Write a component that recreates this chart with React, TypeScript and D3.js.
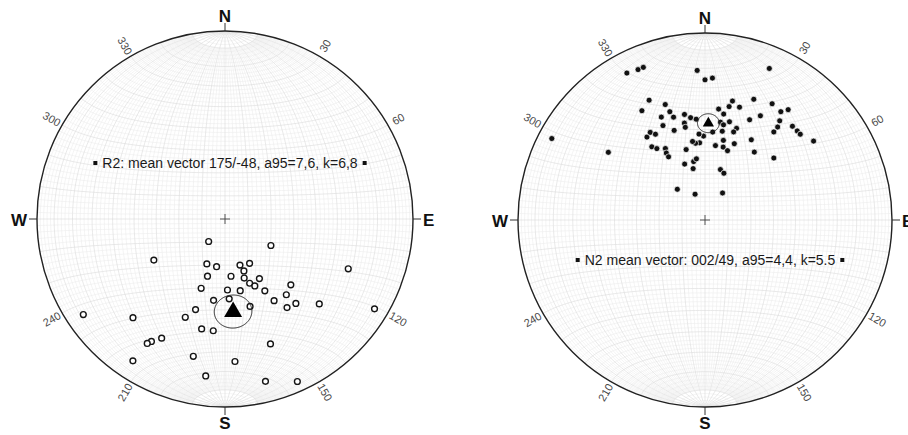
import React, { useLayoutEffect, useRef, useState } from 'react';
import * as d3 from 'd3';

// R2 directions, trend / plunge in degrees (lower hemisphere)
const r2Trend = [216, 120, 240, 202, 190, 162, 151, 160, 112, 197, 174, 162, 150, 159, 156, 199, 178, 168, 151, 135,
  141, 177, 188, 149, 140, 145, 132, 121, 164, 198, 202, 223, 236, 192, 186, 208, 211, 212, 160, 193, 213, 176, 187, 166, 156];
const r2Plunge = [78, 67, 54, 69, 69, 69, 68, 66, 30, 64, 65, 63, 60, 60, 58, 58, 59, 58, 54, 49,
  47, 55, 54, 48, 41, 42, 33, 8, 50, 48, 43, 29, 10, 40, 40, 29, 25, 23, 30, 26, 11, 25, 17, 12, 6];

// N2 directions
const n2Trend = [332, 336, 338, 357, 0, 3, 23, 335, 330, 341, 342, 337, 343, 336, 341, 325, 328, 330, 324, 326,
  331, 330, 330, 298, 305, 318, 349, 352, 355, 348, 348, 22, 13, 12, 17, 7, 10, 30, 35, 37,
  28, 24, 14, 9, 11, 37, 38, 43, 46, 48, 54, 38, 19, 11, 18, 5, 359, 356, 30, 13,
  21, 8, 14, 18, 356, 353, 351, 345, 36, 48, 349, 352, 340, 347, 17, 22, 339, 33];
const n2Plunge = [12, 13, 13, 21, 26, 25, 13, 30, 33, 35, 39, 40, 42, 44, 48, 45, 44, 46, 50, 52,
  54, 56, 58, 8, 37, 72, 42, 44, 45, 46, 48, 31, 35, 38, 37, 40, 42, 29, 30, 27,
  37, 41, 45, 46, 47, 34, 37, 32, 32, 32, 29, 40, 47, 50, 49, 51, 53, 52, 49, 54,
  54, 57, 57, 58, 56, 56, 55, 58, 53, 49, 64, 63, 64, 67, 67, 68, 78, 76];

const meanTrend = [175, 2];
const meanPlunge = [49, 47];
const alpha95 = [7.6, 4.4];
const captions = ['R2: mean vector 175/-48, a95=7,6, k=6,8', 'N2 mean vector: 002/49, a95=4,4, k=5.5'];
const compass = ['N', 'E', 'S', 'W'];
const degreeTicks = [30, 60, 120, 150, 210, 240, 300, 330];

const rad = Math.PI / 180;

function toLonLat(trend: number, plunge: number): [number, number] {
  const t = trend * rad, p = plunge * rad;
  const e = Math.cos(p) * Math.sin(t);
  const n = Math.cos(p) * Math.cos(t);
  const d = Math.sin(p);
  return [Math.atan2(e, d) / rad, Math.asin(n) / rad];
}

// Schmidt net grid: 2 degree lines, minor meridians stop at 80 so the poles stay open
function gridLines(major: boolean): any {
  const lines: [number, number][][] = [];
  for (let lon = -88; lon <= 88; lon += 2) {
    const isMajor = lon % 10 === 0;
    if (isMajor !== major) continue;
    const lim = isMajor ? 90 : 80;
    lines.push(d3.range(-lim, lim + 0.5, 1).map(lat => [lon, lat] as [number, number]));
  }
  for (let lat = -88; lat <= 88; lat += 2) {
    const isMajor = lat % 10 === 0;
    if (isMajor !== major) continue;
    lines.push(d3.range(-90, 90.5, 1).map(lon => [lon, lat] as [number, number]));
  }
  return { type: 'MultiLineString', coordinates: lines };
}

function Caption({ x, y, text }: { x: number; y: number; text: string }) {
  const ref = useRef<SVGTextElement>(null);
  const [w, setW] = useState(text.length * 7);
  useLayoutEffect(() => {
    if (ref.current) setW(ref.current.getComputedTextLength());
  }, [text]);
  return (
    <g>
      <rect x={x - w / 2 - 9} y={y - 2} width={4} height={4} fill="#111" />
      <text ref={ref} x={x} y={y} textAnchor="middle" dominantBaseline="central"
        fontSize={14} fill="#1a1a1a">{text}</text>
      <rect x={x + w / 2 + 5} y={y - 2} width={4} height={4} fill="#111" />
    </g>
  );
}

interface NetProps {
  cx: number; cy: number; r: number;
  trends: number[]; plunges: number[];
  idx: number; filled: boolean; triSize: number; captionY: number;
}

function Stereonet({ cx, cy, r, trends, plunges, idx, filled, triSize, captionY }: NetProps) {
  const projection = d3.geoAzimuthalEqualArea()
    .scale(r / Math.SQRT2)
    .translate([cx, cy])
    .clipAngle(90)
    .precision(0.2);
  const path = d3.geoPath(projection);

  const pts = trends.map((t, i) => projection(toLonLat(t, plunges[i])) as [number, number]);
  const meanLL = toLonLat(meanTrend[idx], meanPlunge[idx]);
  const meanXY = projection(meanLL) as [number, number];
  const cone = d3.geoCircle().center(meanLL).radius(alpha95[idx]).precision(2)();
  const tri = d3.symbol().type(d3.symbolTriangle).size(triSize)() as string;

  return (
    <g>
      <path d={path(gridLines(false)) || ''} fill="none" stroke="#e9e9e9" strokeWidth={0.5} />
      <path d={path(gridLines(true)) || ''} fill="none" stroke="#dadada" strokeWidth={0.6} />
      <circle cx={cx} cy={cy} r={r} fill="none" stroke="#222" strokeWidth={1.4} />

      {/* cardinal ticks and labels */}
      {compass.map((c, i) => {
        const a = i * 90 * rad;
        const sx = Math.sin(a), sy = -Math.cos(a);
        const lx = cx + sx * (r + 13), ly = cy + sy * (r + 13);
        return (
          <g key={c}>
            <line x1={cx + sx * r} y1={cy + sy * r} x2={cx + sx * (r + 8)} y2={cy + sy * (r + 8)}
              stroke="#333" strokeWidth={1} />
            <text x={lx} y={ly} fontSize={17} fontWeight="bold" fill="#111"
              textAnchor={i === 1 ? 'start' : i === 3 ? 'end' : 'middle'}
              dominantBaseline="central"
              dx={i === 1 ? -3 : i === 3 ? 3 : 0}
              dy={i === 0 ? -2 : i === 2 ? 3 : 1}>{c}</text>
          </g>
        );
      })}

      {degreeTicks.map(az => {
        const a = az * rad;
        const x = cx + Math.sin(a) * (r + 12);
        const y = cy - Math.cos(a) * (r + 12);
        const rot = az < 180 ? az - 90 : az - 270;
        return (
          <text key={az} x={x} y={y} fontSize={11} fill="#4a4a4a" textAnchor="middle"
            dominantBaseline="central" transform={`rotate(${rot},${x},${y})`}>{az}</text>
        );
      })}

      {/* centre cross */}
      <line x1={cx - 5} y1={cy} x2={cx + 5} y2={cy} stroke="#444" strokeWidth={0.9} />
      <line x1={cx} y1={cy - 5} x2={cx} y2={cy + 5} stroke="#444" strokeWidth={0.9} />

      {pts.map((p, i) => filled
        ? <circle key={i} cx={p[0]} cy={p[1]} r={3} fill="#111" stroke="#fff" strokeWidth={0.7} />
        : <circle key={i} cx={p[0]} cy={p[1]} r={2.9} fill="#fff" stroke="#151515" strokeWidth={1.4} />)}

      <path d={path(cone as any) || ''} fill="none" stroke="#222" strokeWidth={1} />
      <path d={tri} transform={`translate(${meanXY[0]},${meanXY[1]})`} fill="#000" />

      <Caption x={cx + 5} y={captionY} text={captions[idx]} />
    </g>
  );
}

export default function App() {
  return (
    <svg width={908} height={435} style={{ position: 'absolute', left: 0, top: 0, background: '#fff' }}
      fontFamily="Liberation Sans, Arial, sans-serif">
      <rect width={908} height={435} fill="#fff" />
      <Stereonet cx={225} cy={219} r={188} trends={r2Trend} plunges={r2Plunge} idx={0}
        filled={false} triSize={140} captionY={163} />
      <Stereonet cx={705} cy={220} r={187} trends={n2Trend} plunges={n2Plunge} idx={1}
        filled={true} triSize={55} captionY={260} />
    </svg>
  );
}
